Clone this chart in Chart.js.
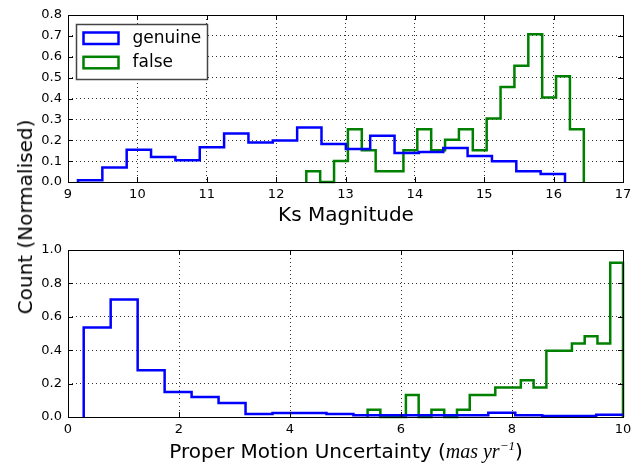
<!DOCTYPE html>
<html>
<head>
<meta charset="utf-8">
<script src="https://cdn.jsdelivr.net/npm/chart.js@4"></script>
<style>
  body { margin: 0; background: #fff; }
  #wrap { position: relative; width: 642px; height: 463px; font-family: 'DejaVu Sans'; overflow: hidden; }
  canvas { position: absolute; left: 0; }
  .ttl { position: absolute; font-size: 20px; line-height: 1; white-space: nowrap; color: #000;
         transform: translate(-50%, -50%); }
  #yTitle { transform: translate(-50%, -50%) rotate(-90deg); }
  .m { font-family: 'Liberation Serif'; font-style: italic; }
  .m sup { font-size: 13px; vertical-align: 8px; line-height: 0; }
</style>
</head>
<body>
<div id="wrap">
  <canvas id="ksChart" width="642" height="232" style="top:0"></canvas>
  <canvas id="pmChart" width="642" height="231" style="top:232px"></canvas>
  <div class="ttl" id="yTitle" style="left:25px; top:217px">Count (Normalised)</div>
  <div class="ttl" style="left:346px; top:214px">Ks Magnitude</div>
  <div class="ttl" style="left:346px; top:451px">Proper Motion Uncertainty (<span class="m">mas yr<sup>−1</sup></span>)</div>
</div>
<script>
// Ks magnitude histograms, 20 bins each
const ksGenuineStart = 9.144, ksGenuineWidth = 0.351;
const ksGenuine = [0.008, 0.07, 0.155, 0.12, 0.104, 0.166, 0.232, 0.189, 0.199, 0.261,
                   0.182, 0.158, 0.221, 0.139, 0.144, 0.163, 0.125, 0.099, 0.051, 0.038];
const ksFalseStart = 12.435, ksFalseWidth = 0.2;
const ksFalse = [0.051, 0, 0.101, 0.253, 0.152, 0.051, 0.051, 0.152, 0.253, 0.152,
                 0.202, 0.253, 0.152, 0.304, 0.455, 0.557, 0.708, 0.405, 0.506, 0.253];

// proper motion uncertainty histograms
const pmGenuineStart = 0.283, pmGenuineWidth = 0.486;
const pmGenuine = [0.536, 0.704, 0.28, 0.15, 0.12, 0.084, 0.018, 0.024, 0.024, 0.018,
                   0.01, 0.01, 0.01, 0.01, 0.01, 0.026, 0.01, 0.006, 0.006, 0.014];
const pmFalseStart = 5.398, pmFalseWidth = 0.2301;
const pmFalse = [0.044, 0, 0, 0.132, 0, 0.044, 0, 0.044, 0.132, 0.132,
                 0.176, 0.176, 0.22, 0.176, 0.396, 0.396, 0.44, 0.484, 0.44, 0.924];

const seriesLabels = ['genuine', 'false'];
const seriesColors = ['#0000ff', '#008000'];

Chart.defaults.font.family = 'DejaVu Sans';
Chart.defaults.font.size = 13;
Chart.defaults.color = '#000';

// outline of a step histogram: left edge of each bin, then close down to zero
function stepPoints(start, width, values) {
  const pts = [{x: start, y: 0}];
  values.forEach((v, i) => pts.push({x: start + i * width, y: v}));
  const end = start + values.length * width;
  pts.push({x: end, y: values[values.length - 1]});
  pts.push({x: end, y: 0});
  return pts;
}

function histDataset(i, start, width, values) {
  return {
    label: seriesLabels[i],
    data: stepPoints(start, width, values),
    borderColor: seriesColors[i],
    borderWidth: 2.5,
    pointRadius: 0,
    stepped: 'before',
    fill: false,
    clip: 3
  };
}

// black frame with inward ticks on all four sides
const frameTicks = {
  id: 'frameTicks',
  afterDatasetsDraw(chart) {
    const {ctx, chartArea: a, scales: {x, y}} = chart;
    ctx.save();
    ctx.strokeStyle = '#000';
    ctx.lineWidth = 1;
    ctx.beginPath();
    x.ticks.forEach(t => {
      const px = Math.round(x.getPixelForValue(t.value)) + 0.5;
      ctx.moveTo(px, a.bottom); ctx.lineTo(px, a.bottom - 5);
      ctx.moveTo(px, a.top); ctx.lineTo(px, a.top + 5);
    });
    y.ticks.forEach(t => {
      const py = Math.round(y.getPixelForValue(t.value)) + 0.5;
      ctx.moveTo(a.left, py); ctx.lineTo(a.left + 5, py);
      ctx.moveTo(a.right, py); ctx.lineTo(a.right - 5, py);
    });
    ctx.stroke();
    ctx.strokeRect(Math.round(a.left) + 0.5, Math.round(a.top) + 0.5,
                   Math.round(a.right - a.left), Math.round(a.bottom - a.top));
    ctx.restore();
  }
};

// legend box in the upper left of the plot
const boxLegend = {
  id: 'boxLegend',
  afterDatasetsDraw(chart, args, opts) {
    if (!opts.show) return;
    const {ctx, chartArea: a} = chart;
    const bx = a.left + 8.5, by = a.top + 9.5, bw = 131, bh = 55;
    ctx.save();
    ctx.fillStyle = '#fff';
    ctx.fillRect(bx, by, bw, bh);
    ctx.strokeStyle = '#444';
    ctx.lineWidth = 1.5;
    ctx.strokeRect(bx, by, bw, bh);
    ctx.font = '17px "DejaVu Sans"';
    ctx.textBaseline = 'middle';
    chart.data.datasets.forEach((ds, i) => {
      const ry = by + 8 + i * 24.3;
      ctx.strokeStyle = ds.borderColor;
      ctx.lineWidth = 2.5;
      ctx.strokeRect(bx + 7, ry, 35, 11.5);
      ctx.fillStyle = '#000';
      ctx.fillText(ds.label, bx + 56, ry + 6);
    });
    ctx.restore();
  }
};

function axisOpts(min, max, step, digits, fitKey, fitSize) {
  return {
    type: 'linear',
    min: min, max: max,
    afterFit(s) { s[fitKey] = fitSize; },
    ticks: {
      stepSize: step,
      autoSkip: false,
      maxRotation: 0,
      padding: fitKey === 'width' ? 6 : 5,
      callback: v => v.toFixed(digits)
    },
    grid: { color: 'rgba(0,0,0,0.8)', lineWidth: 1, drawTicks: false },
    border: { display: false, dash: [1, 3] }
  };
}

function makeChart(id, datasets, xr, yr, xHeight, pad, legend) {
  return new Chart(document.getElementById(id), {
    type: 'line',
    data: { datasets },
    options: {
      responsive: false,
      animation: false,
      devicePixelRatio: 1,
      layout: { padding: pad },
      plugins: { legend: { display: false }, tooltip: { enabled: false }, boxLegend: { show: legend } },
      scales: {
        x: axisOpts(xr[0], xr[1], xr[2], 0, 'height', xHeight),
        y: axisOpts(yr[0], yr[1], yr[2], 1, 'width', 68)
      }
    },
    plugins: [frameTicks, boxLegend]
  });
}

makeChart('ksChart', [
  histDataset(0, ksGenuineStart, ksGenuineWidth, ksGenuine),
  histDataset(1, ksFalseStart, ksFalseWidth, ksFalse)
], [9, 17, 1], [0, 0.8, 0.1], 50, {top: 15, right: 19, left: 0, bottom: 0}, true);

makeChart('pmChart', [
  histDataset(0, pmGenuineStart, pmGenuineWidth, pmGenuine),
  histDataset(1, pmFalseStart, pmFalseWidth, pmFalse)
], [0, 10, 2], [0, 1.0, 0.2], 46, {top: 18, right: 19, left: 0, bottom: 0}, false);
</script>
</body>
</html>
